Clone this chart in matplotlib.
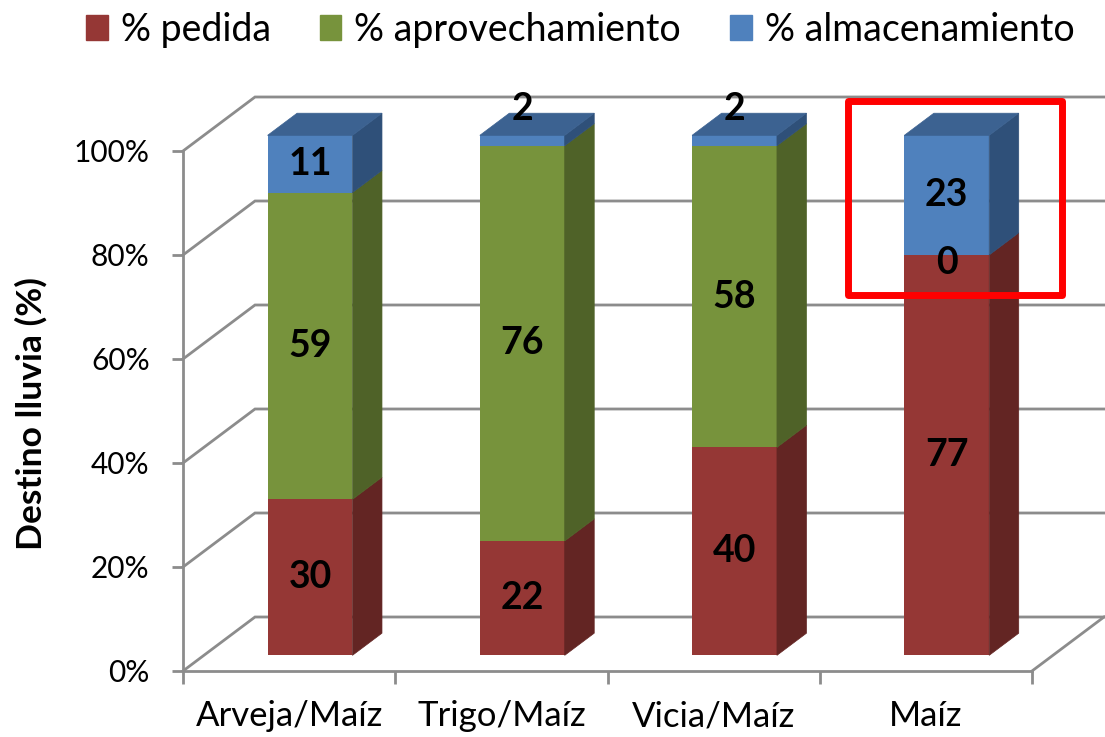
import numpy as np
import matplotlib.pyplot as plt
from matplotlib.patches import Patch, Rectangle
from matplotlib.ticker import PercentFormatter

categorias = ['Arveja/Maíz', 'Trigo/Maíz', 'Vicia/Maíz', 'Maíz']
series = ['% pedida', '% aprovechamiento', '% almacenamiento']
pedida = [30, 22, 40, 77]
aprovechamiento = [59, 76, 58, 0]
almacenamiento = [11, 2, 2, 23]

# front / side / top colours for each series
caras = [('#953735', '#632523', '#772C2A'),
         ('#77933C', '#4F6228', '#5F7530'),
         ('#4F81BD', '#2F5079', '#3C6291')]
gris = '#8C8C8C'

plt.rcParams['font.family'] = ['Lato', 'DejaVu Sans']

fig = plt.figure(figsize=(11.05, 7.37), dpi=100)
ax = fig.add_axes([183/1105, 66/737, 849/1105, 520/737])
ax.set_xlim(-0.5, 3.5)
ax.set_ylim(0, 100)

# oblique depth of the 3d box, in data units
DX = 72/212.25
DY = 54/5.2
F0, F1 = 0.29, 0.70   # front and back of the bars inside the box
W = 0.4

# walls
for v in range(0, 101, 20):
    ax.plot([-0.5, -0.5 + DX, 3.5 + DX], [v, v + DY, v + DY], color=gris, lw=2,
            clip_on=False, zorder=1, solid_joinstyle='miter')
ax.plot([3.5, 3.5 + DX], [0, DY], color=gris, lw=2, clip_on=False, zorder=1)

for s in ['top', 'right']:
    ax.spines[s].set_visible(False)
for s in ['left', 'bottom']:
    ax.spines[s].set_color(gris)
    ax.spines[s].set_linewidth(2)
ax.patch.set_visible(False)

x = np.arange(len(categorias))
datos = [pedida, aprovechamiento, almacenamiento]
base = np.zeros(len(categorias))
total = np.sum(datos, axis=0)
for vals, (cf, cs, ct) in zip(datos, caras):
    vals = np.array(vals, dtype=float)
    ax.bar(x + F0*DX, vals, width=W, bottom=base + F0*DY, color=cf,
           zorder=3, clip_on=False, lw=0)
    for i in range(len(x)):
        b, t = base[i], base[i] + vals[i]
        if vals[i] > 0:
            xr = x[i] + W/2
            ax.fill([xr + F0*DX, xr + F1*DX, xr + F1*DX, xr + F0*DX],
                    [b + F0*DY, b + F1*DY, t + F1*DY, t + F0*DY],
                    color=cs, ec=cs, lw=0.5, zorder=3, clip_on=False)
            if t >= total[i]:
                xl = x[i] - W/2
                ax.fill([xl + F0*DX, xr + F0*DX, xr + F1*DX, xl + F1*DX],
                        [t + F0*DY, t + F0*DY, t + F1*DY, t + F1*DY],
                        color=ct, ec=ct, lw=0.5, zorder=3, clip_on=False)
        if 0 < vals[i] < 5:
            ym = t + 5
        elif vals[i] == 0:
            ym = b - 1.5
        else:
            ym = b + vals[i]/2
        ax.text(x[i] + F0*DX, ym + F0*DY, f'{vals[i]:.0f}', ha='center', va='center',
                fontsize=27, fontweight='bold', zorder=6, clip_on=False)
    base = base + vals

# highlight box around Maíz
ax.add_patch(Rectangle((2.634, 72.3), 1.007, 37.3, fill=False, ec='#FF0000', lw=5,
                       joinstyle='round', clip_on=False, zorder=7))

ax.set_yticks(range(0, 101, 20))
ax.yaxis.set_major_formatter(PercentFormatter(decimals=0))
ax.tick_params(axis='y', length=8, width=2, color=gris, pad=16, labelsize=21.5)
ax.set_xticks(np.arange(-0.5, 3.6, 1))
ax.set_xticklabels([])
ax.set_xticks(x, minor=True)
ax.set_xticklabels(categorias, minor=True)
ax.tick_params(axis='x', which='major', length=9, width=2, color=gris)
ax.tick_params(axis='x', which='minor', length=0, pad=21, labelsize=25)

fig.text(31/1105, 1 - 414/737, 'Destino lluvia (%)', rotation=90, ha='center',
         va='center', fontsize=25.5, fontweight='bold')

handles = [Patch(color=c[0]) for c in caras]
fig.legend(handles, series, loc='upper center', bbox_to_anchor=(0.525, 1.03), ncol=3,
           frameon=False, fontsize=27, handlelength=0.58, handleheight=0.62,
           handletextpad=0.35, columnspacing=1.3)

fig.savefig('out.png', dpi=100)
